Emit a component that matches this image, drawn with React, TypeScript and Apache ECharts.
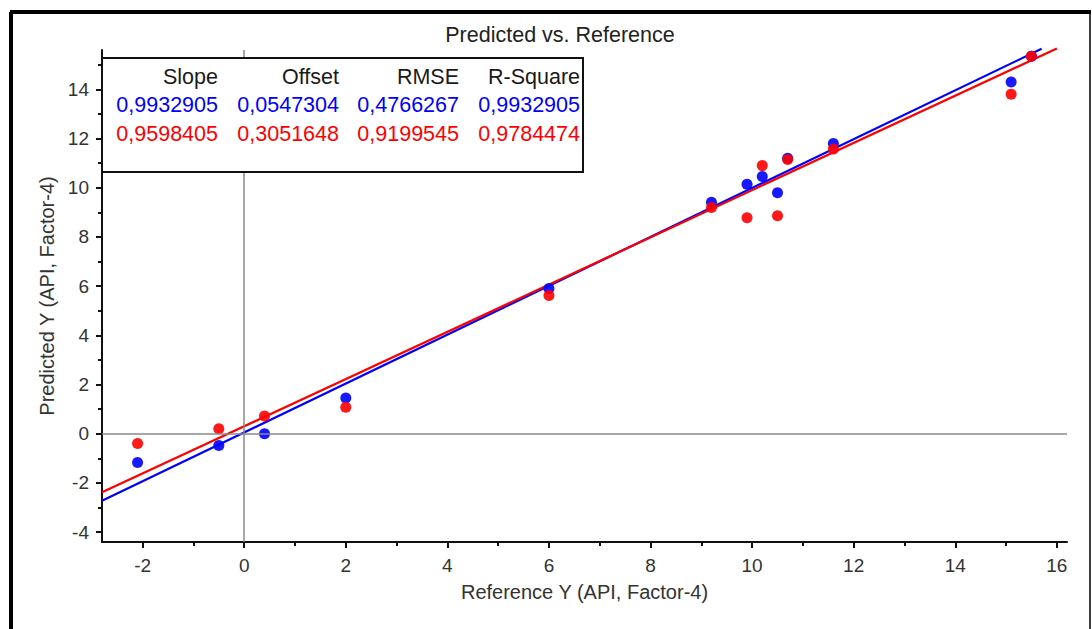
import React, { useEffect, useRef } from "react";
import * as echarts from "echarts";

const refX = [-2.1, -0.5, 0.4, 2.0, 6.0, 9.2, 9.9, 10.2, 10.5, 10.7, 11.6, 15.1, 15.5];
const predBlue = [-1.17, -0.48, 0.0, 1.45, 5.9, 9.41, 10.14, 10.46, 9.8, 11.2, 11.8, 14.3, 15.35];
const predRed = [-0.4, 0.2, 0.72, 1.08, 5.62, 9.2, 8.78, 10.9, 8.86, 11.15, 11.58, 13.8, 15.35];

const statHeaders = ["Slope", "Offset", "RMSE", "R-Square"];
const statsBlue = ["0,9932905", "0,0547304", "0,4766267", "0,9932905"];
const statsRed = ["0,9598405", "0,3051648", "0,9199545", "0,9784474"];

const slopeBlue = 0.9932905;
const offsetBlue = 0.0547304;
const slopeRed = 0.9598405;
const offsetRed = 0.3051648;
const lineXBlue = [-2.8, 15.7];
const lineXRed = [-2.8, 16.0];

const xMajor = [-2, 0, 2, 4, 6, 8, 10, 12, 14, 16];
const xMinor = [-1, 1, 3, 5, 7, 9, 11, 13, 15];
const yMajor = [-4, -2, 0, 2, 4, 6, 8, 10, 12, 14];
const yMinor = [-3, -1, 1, 3, 5, 7, 9, 11, 13, 15];

const FONT = "'Liberation Sans', Arial, sans-serif";
const BLUE = "#0000ff";
const RED = "#ff0000";

export default function App() {
  const ref = useRef<HTMLDivElement>(null);
  useEffect(() => {
    if (!ref.current) return;
    const chart = echarts.init(ref.current, null, { renderer: "svg" });
    const colRight = [218, 339, 459, 580];
    const legendTexts: any[] = [];
    const lfont = `21.5px ${FONT}`;
    statHeaders.forEach((h, i) => {
      legendTexts.push({
        type: "text",
        z: 101,
        x: colRight[i],
        y: 77,
        style: { text: h, fill: "#1a1a1a", font: lfont, textAlign: "right", textVerticalAlign: "middle" },
      });
      legendTexts.push({
        type: "text",
        z: 101,
        x: colRight[i],
        y: 105,
        style: { text: statsBlue[i], fill: BLUE, font: lfont, textAlign: "right", textVerticalAlign: "middle" },
      });
      legendTexts.push({
        type: "text",
        z: 101,
        x: colRight[i],
        y: 134,
        style: { text: statsRed[i], fill: RED, font: lfont, textAlign: "right", textVerticalAlign: "middle" },
      });
    });

    const baseAxisLine = { show: true, onZero: false, lineStyle: { color: "#111", width: 2 } };
    const xMin = -2.8, xMax = 16.2, yMin = -4.4, yMax = 15.6;

    chart.setOption({
      animation: false,
      backgroundColor: "#fff",
      textStyle: { fontFamily: FONT },
      title: {
        text: "Predicted vs. Reference",
        left: 555,
        top: 19,
        textAlign: "center",
        textStyle: { fontSize: 21.5, fontWeight: "normal", color: "#222", fontFamily: FONT },
      },
      grid: { left: 102, top: 50, right: 25, bottom: 87 },
      xAxis: [
        {
          type: "value",
          min: xMin,
          max: xMax,
          name: "Reference Y (API, Factor-4)",
          nameLocation: "middle",
          nameGap: 40,
          nameTextStyle: { fontSize: 20, color: "#333", fontFamily: FONT },
          axisLine: baseAxisLine,
          axisTick: { show: true, length: 6, customValues: xMajor, lineStyle: { color: "#111", width: 2 } },
          axisLabel: { customValues: xMajor, fontSize: 19, color: "#333", margin: 14, fontFamily: FONT },
          splitLine: { show: false },
        },
        {
          type: "value",
          min: xMin,
          max: xMax,
          position: "bottom",
          axisLine: { show: false, onZero: false },
          axisTick: { show: true, length: 4, customValues: xMinor, lineStyle: { color: "#111", width: 2 } },
          axisLabel: { show: false },
          splitLine: { show: false },
        },
      ],
      yAxis: [
        {
          type: "value",
          min: yMin,
          max: yMax,
          name: "Predicted Y (API, Factor-4)",
          nameLocation: "middle",
          nameGap: 42,
          nameTextStyle: { fontSize: 20, color: "#333", fontFamily: FONT },
          axisLine: baseAxisLine,
          axisTick: { show: true, length: 6, customValues: yMajor, lineStyle: { color: "#111", width: 2 } },
          axisLabel: { customValues: yMajor, fontSize: 19, color: "#333", margin: 13, fontFamily: FONT },
          splitLine: { show: false },
        },
        {
          type: "value",
          min: yMin,
          max: yMax,
          position: "left",
          axisLine: { show: false, onZero: false },
          axisTick: { show: true, length: 4, customValues: yMinor, lineStyle: { color: "#111", width: 2 } },
          axisLabel: { show: false },
          splitLine: { show: false },
        },
      ],
      series: [
        {
          type: "line",
          name: "zero",
          data: [],
          markLine: {
            silent: true,
            symbol: "none",
            label: { show: false },
            lineStyle: { color: "#8a8a8a", width: 1.5, type: "solid" },
            data: [{ xAxis: 0 }, { yAxis: 0 }],
          },
        },
        {
          type: "line",
          name: "fitBlue",
          data: lineXBlue.map((x) => [x, slopeBlue * x + offsetBlue]),
          showSymbol: false,
          clip: false,
          lineStyle: { color: BLUE, width: 2.2 },
          z: 3,
        },
        {
          type: "line",
          name: "fitRed",
          data: lineXRed.map((x) => [x, slopeRed * x + offsetRed]),
          showSymbol: false,
          clip: false,
          lineStyle: { color: RED, width: 2.2 },
          z: 3,
        },
        {
          type: "scatter",
          name: "blue",
          data: refX.map((x, i) => [x, predBlue[i]]),
          symbolSize: 11,
          itemStyle: { color: BLUE, opacity: 0.9 },
          z: 4,
        },
        {
          type: "scatter",
          name: "red",
          data: refX.map((x, i) => [x, predRed[i]]),
          symbolSize: 11,
          itemStyle: { color: RED, opacity: 0.9 },
          z: 4,
        },
      ],
      graphic: [
        { type: "line", z: 200, shape: { x1: 10, y1: 12, x2: 1091, y2: 12 }, style: { stroke: "#000", lineWidth: 4 } },
        { type: "line", z: 200, shape: { x1: 11, y1: 12, x2: 11, y2: 629 }, style: { stroke: "#000", lineWidth: 4 } },
        { type: "line", z: 200, shape: { x1: 1090, y1: 12, x2: 1090, y2: 629 }, style: { stroke: "#000", lineWidth: 1.5 } },
        {
          type: "rect",
          z: 100,
          shape: { x: 102, y: 58, width: 481, height: 114 },
          style: { fill: "#fff", stroke: "#111", lineWidth: 2 },
        },
        ...legendTexts,
      ],
    });
    return () => chart.dispose();
  }, []);
  return <div ref={ref} style={{ position: "absolute", left: 0, top: 0, width: 1092, height: 629 }} />;
}
